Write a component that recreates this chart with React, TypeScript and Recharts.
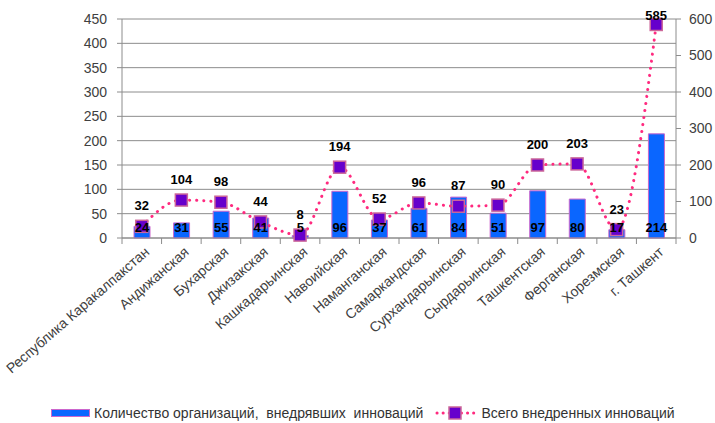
import {
    ComposedChart,
    Bar,
    Line,
    XAxis,
    YAxis,
    CartesianGrid,
    Legend,
    LabelList,
} from "recharts";

// Regions of Uzbekistan
const regions = [
    "Республика Каракалпакстан",
    "Андижанская",
    "Бухарская",
    "Джизакская",
    "Кашкадарьинская",
    "Навоийская",
    "Наманганская",
    "Самаркандская",
    "Сурхандарьинская",
    "Сырдарьинская",
    "Ташкентская",
    "Ферганская",
    "Хорезмская",
    "г. Ташкент",
];

// Количество организаций, внедрявших инноваций (left axis)
const orgCounts = [24, 31, 55, 41, 5, 96, 37, 61, 84, 51, 97, 80, 17, 214];

// Всего внедренных инноваций (right axis)
const innovationTotals = [32, 104, 98, 44, 8, 194, 52, 96, 87, 90, 200, 203, 23, 585];

const leftTicks = [0, 50, 100, 150, 200, 250, 300, 350, 400, 450];
const rightTicks = [0, 100, 200, 300, 400, 500, 600];

const data = regions.map((region, i) => ({
    region,
    orgs: orgCounts[i],
    total: innovationTotals[i],
}));

const FONT = "'Liberation Sans', Arial, sans-serif";
const AXIS_TEXT = "#404040";
const GRID = "#8c8c8c";
const BAR_FILL = "#0a66ff";
const BAR_STROKE = "#cc66cc";
const LINE_COLOR = "#ff2a7f";
const MARKER_FILL = "#6600cc";
const MARKER_STROKE = "#cc6699";

function RegionTick(props: any) {
    const { x, y, payload, index } = props;
    const half = payload && payload.offset ? payload.offset : 19.8;
    const last = index === regions.length - 1;
    return (
        <g>
            <line x1={x - half} y1={y} x2={x - half} y2={y + 6} stroke={GRID} />
            {last && <line x1={x + half} y1={y} x2={x + half} y2={y + 6} stroke={GRID} />}
            <text
                x={x + 3}
                y={y + 9}
                dy="0.6em"
                transform={`rotate(-41, ${x + 3}, ${y + 9})`}
                textAnchor="end"
                fontSize={14}
                fill={AXIS_TEXT}
                fontFamily={FONT}
            >
                {payload.value}
            </text>
        </g>
    );
}

function SquareDot(props: any) {
    const { cx, cy } = props;
    if (cx == null || cy == null) return null;
    return (
        <rect
            x={cx - 6}
            y={cy - 6}
            width={12}
            height={12}
            fill={MARKER_FILL}
            stroke={MARKER_STROKE}
            strokeWidth={1.5}
        />
    );
}

function TotalLabel(props: any) {
    const { x, y, value } = props;
    const ty = Math.max(y - 16, 20);
    return (
        <text
            x={x}
            y={ty}
            textAnchor="middle"
            fontSize={13}
            fontWeight="bold"
            fill="#000"
            fontFamily={FONT}
        >
            {value}
        </text>
    );
}

function LegendRow() {
    return (
        <div
            style={{
                display: "flex",
                alignItems: "center",
                height: 20,
                fontFamily: FONT,
                fontSize: 14,
                color: "#333",
                paddingLeft: 51,
                whiteSpace: "nowrap",
            }}
        >
            <span
                style={{
                    display: "inline-block",
                    width: 37,
                    height: 6,
                    background: BAR_FILL,
                    border: `1px solid ${BAR_STROKE}`,
                    marginRight: 4,
                }}
            />
            <span>Количество организаций,&nbsp; внедрявших&nbsp; инноваций</span>
            <svg width={42} height={14} style={{ marginLeft: 12, marginRight: 4 }}>
                <line
                    x1={2}
                    y1={7}
                    x2={40}
                    y2={7}
                    stroke={LINE_COLOR}
                    strokeWidth={3}
                    strokeDasharray="0.1 6"
                    strokeLinecap="round"
                />
                <rect x={14} y={1} width={12} height={12} fill={MARKER_FILL} stroke={MARKER_STROKE} strokeWidth={1.5} />
            </svg>
            <span>Всего внедренных инноваций</span>
        </div>
    );
}

export default function App() {
    return (
        <div
            style={{
                position: "absolute",
                left: 0,
                top: 0,
                width: 715,
                height: 423,
                background: "#fff",
                fontFamily: FONT,
            }}
        >
            <ComposedChart
                width={715}
                height={423}
                data={data}
                margin={{ top: 19, right: 0, bottom: 0, left: 0 }}
            >
                <CartesianGrid yAxisId="left" vertical={false} stroke={GRID} />
                <XAxis
                    dataKey="region"
                    interval={0}
                    height={165}
                    tickLine={false}
                    tickSize={0}
                    tickMargin={0}
                    stroke={GRID}
                    tick={<RegionTick />}
                />
                <YAxis
                    yAxisId="left"
                    width={122}
                    domain={[0, 450]}
                    ticks={leftTicks}
                    interval={0}
                    stroke={GRID}
                    tickSize={5}
                    tickMargin={10}
                    tick={{ fill: AXIS_TEXT, fontSize: 14, fontFamily: FONT }}
                />
                <YAxis
                    yAxisId="right"
                    orientation="right"
                    width={39}
                    domain={[0, 600]}
                    ticks={rightTicks}
                    interval={0}
                    stroke={GRID}
                    tickSize={5}
                    tickMargin={8}
                    tick={{ fill: AXIS_TEXT, fontSize: 14, fontFamily: FONT, textAnchor: "start" }}
                />
                <Legend verticalAlign="bottom" height={20} content={() => <LegendRow />} />
                <Bar
                    yAxisId="left"
                    dataKey="orgs"
                    barSize={16}
                    fill={BAR_FILL}
                    stroke={BAR_STROKE}
                    strokeWidth={1}
                    isAnimationActive={false}
                >
                    <LabelList
                        dataKey="orgs"
                        position="insideBottom"
                        offset={6}
                        fill="#000"
                        fontSize={13}
                        fontWeight="bold"
                        fontFamily={FONT}
                    />
                </Bar>
                <Line
                    yAxisId="right"
                    dataKey="total"
                    type="monotone"
                    stroke={LINE_COLOR}
                    strokeWidth={3}
                    strokeDasharray="0.1 7"
                    strokeLinecap="round"
                    dot={<SquareDot />}
                    activeDot={false}
                    isAnimationActive={false}
                >
                    <LabelList dataKey="total" content={<TotalLabel />} />
                </Line>
            </ComposedChart>
        </div>
    );
}
